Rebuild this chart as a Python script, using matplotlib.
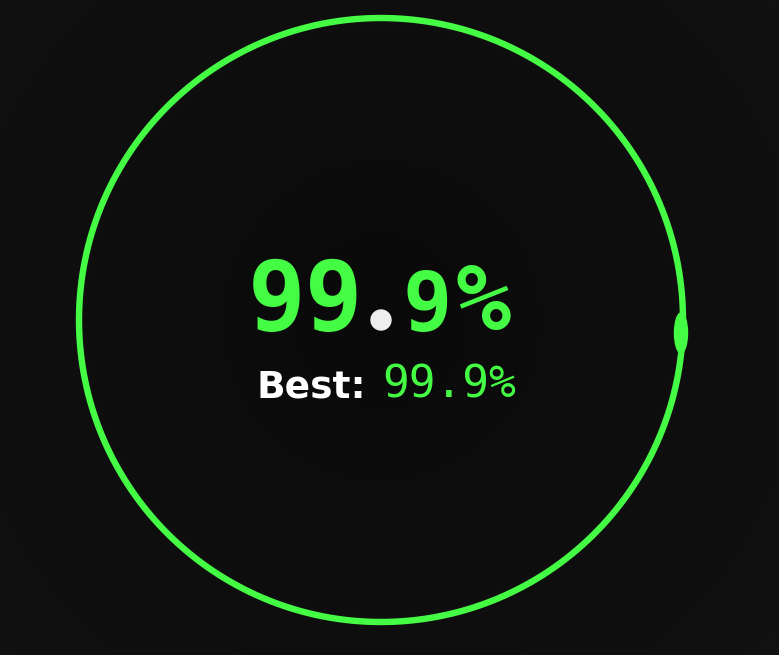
import numpy as np
import matplotlib
matplotlib.use("Agg")
import matplotlib.pyplot as plt
from matplotlib.patches import Ellipse, Circle

# data
value_int = "99"
value_dec = "9"
best_label = "Best:"
best_value = "99.9%"
progress = 99.9  # percent

W, H = 779, 655
fig = plt.figure(figsize=(W / 100, H / 100), dpi=100)
ax = fig.add_axes([0, 0, 1, 1])
ax.set_xlim(0, W)
ax.set_ylim(H, 0)
ax.axis("off")

# background radial gradient
yy, xx = np.mgrid[0:H, 0:W]
cx, cy, R = 381, 320, 302
d = np.sqrt((xx - cx) ** 2 + (yy - cy) ** 2) / 520
d = np.clip(d, 0, 1)
g = 0.038 + 0.030 * d
bg = np.dstack([g, g, g])
ax.imshow(bg, extent=[0, W, H, 0], zorder=0, interpolation="bilinear")

green = "#45fc45"

# progress ring: starts at 3 o'clock, goes clockwise on screen
theta = np.linspace(0, 2 * np.pi * progress / 100, 800)
xs = cx + R * np.cos(theta + 0.04)
ys = cy + R * np.sin(theta + 0.04)
ax.plot(xs, ys, color=green, lw=4.6, solid_capstyle="round", zorder=2)
# end-cap blob
ax.add_patch(Ellipse((681, 333), 13, 40, color=green, zorder=3))

# main value
mono = "DejaVu Sans Mono"
ax.text(248, 330, value_int, color=green, fontsize=69, family=mono,
        fontweight="bold", ha="left", va="baseline", zorder=4)
ax.add_patch(Circle((381, 320), 10, color="#eeeeee", zorder=4))
ax.text(403, 330, value_dec, color=green, fontsize=59, family=mono,
        fontweight="bold", ha="left", va="baseline", zorder=4)
ax.text(456, 330, "%", color=green, fontsize=66, family=mono,
        fontweight="bold", ha="left", va="baseline", zorder=4)

# best
ax.text(257, 398, best_label, color="white", fontsize=27, family="DejaVu Sans",
        fontweight="bold", ha="left", va="baseline", zorder=4)
ax.text(382, 398, best_value, color=green, fontsize=32, family=mono,
        ha="left", va="baseline", zorder=4)

fig.savefig("out.png", dpi=100, facecolor="#111111")
